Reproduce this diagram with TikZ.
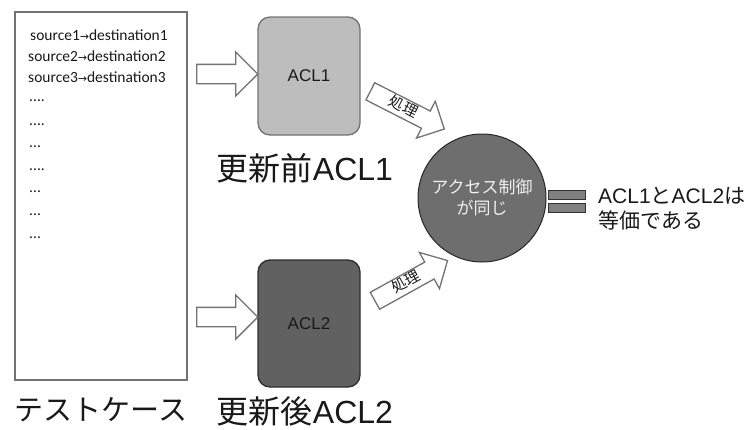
\documentclass[tikz,border=0pt]{standalone}
\usepackage{fontspec}
\setmainfont{Liberation Sans}
\newfontfamily\jpf{Noto Sans CJK JP}
\newfontfamily\calf{Carlito}
\newfontfamily\arrf{DejaVu Sans}
\usetikzlibrary{shapes.arrows}
\definecolor{edge}{gray}{0.45}
\definecolor{aclone}{gray}{0.74}
\definecolor{acltwo}{gray}{0.38}
\definecolor{circfill}{gray}{0.43}
\definecolor{barfill}{gray}{0.5}
\definecolor{ink}{gray}{0.1}
\begin{document}
\begin{tikzpicture}[x=1pt,y=-1pt,
  line/.style={font=\calf\fontsize{15.5}{17}\selectfont, anchor=west, inner sep=0pt, text=ink},
  aclbox/.style={draw=edge, line width=1.3pt, rounded corners=12pt, minimum width=102pt, font=\fontsize{17}{20}\selectfont, text=ink},
  biglabel/.style={font=\fontsize{32}{36}\selectfont, text=ink, inner sep=0pt},
  harrow/.style={single arrow, draw=edge, fill=white, line width=1.3pt, text height=0pt, text depth=0pt, inner xsep=0pt, inner ysep=9pt, single arrow head extend=12.5pt, minimum height=61pt},
  darrow/.style={single arrow, draw=edge, fill=white, line width=1.3pt, text height=11pt, text depth=3pt, inner xsep=2pt, inner ysep=2pt, single arrow head extend=11pt, minimum height=83pt, font=\jpf\fontsize{15}{17}\selectfont, text=ink},
  eqbar/.style={draw=gray!40!black, fill=barfill, line width=0.8pt, minimum width=37pt, minimum height=9pt, inner sep=0pt}
]
\useasboundingbox (0,0) rectangle (753,429);
\fill[white] (0,0) rectangle (753,429);

% test case box
\node[draw=edge, line width=1.3pt, minimum width=172pt, minimum height=368pt, inner sep=0pt] (tc) at (101,196) {};
\node[line] (l1) at (30,35) {source1{\arrf\fontsize{11}{13}\selectfont →}destination1};
\node[line] (l2) at (28,56) {source2{\arrf\fontsize{11}{13}\selectfont →}destination2};
\node[line] (l3) at (28,77) {source3{\arrf\fontsize{11}{13}\selectfont →}destination3};
\node[line] (d1) at (29,101) {....};
\node[line] (d2) at (29,125) {....};
\node[line] (d3) at (29,147) {...};
\node[line] (d4) at (29,170) {....};
\node[line] (d5) at (29,192) {...};
\node[line] (d6) at (29,215) {...};
\node[line] (d7) at (29,238) {...};
\node[font=\jpf\fontsize{29}{32}\selectfont, text=ink, inner sep=0pt] (tclabel) at (101,410) {テストケース};

% ACL boxes
\node[aclbox, fill=aclone, minimum height=118pt] (acl1) at (309,76) {ACL1};
\node[aclbox, fill=acltwo, draw=gray!35!black, minimum height=127pt] (acl2) at (309,323.5) {ACL2};
\node[biglabel] (lab1) at (305,168) {{\jpf 更新前}ACL1};
\node[biglabel] (lab2) at (305,411) {{\jpf 更新後}ACL2};

% horizontal block arrows
\node[harrow] (ha1) at (222.5,74) {};
\node[harrow] (ha2) at (222.5,317) {};

% diagonal block arrows
\node[darrow, rotate=-27] (da1) at (403,108) {処理};
\node[darrow, rotate=29] (da2) at (407,283) {処理};

% circle
\node[circle, fill=circfill, draw=gray!30!black, line width=1pt, minimum size=128pt, inner sep=0pt, align=center, font=\jpf\fontsize{17}{21}\selectfont, text=gray!12] (circ) at (482,198) {アクセス制御\\が同じ};

% equals
\node[eqbar] (eq1) at (566.5,194.5) {};
\node[eqbar] (eq2) at (566.5,207.5) {};

% result text
\node[anchor=west, inner sep=0pt, align=left, font=\fontsize{21}{25}\selectfont, text=ink] (res) at (598,209) {ACL1{\jpf と}ACL2{\jpf は}\\{\jpf 等価である}};
\end{tikzpicture}
\end{document}
